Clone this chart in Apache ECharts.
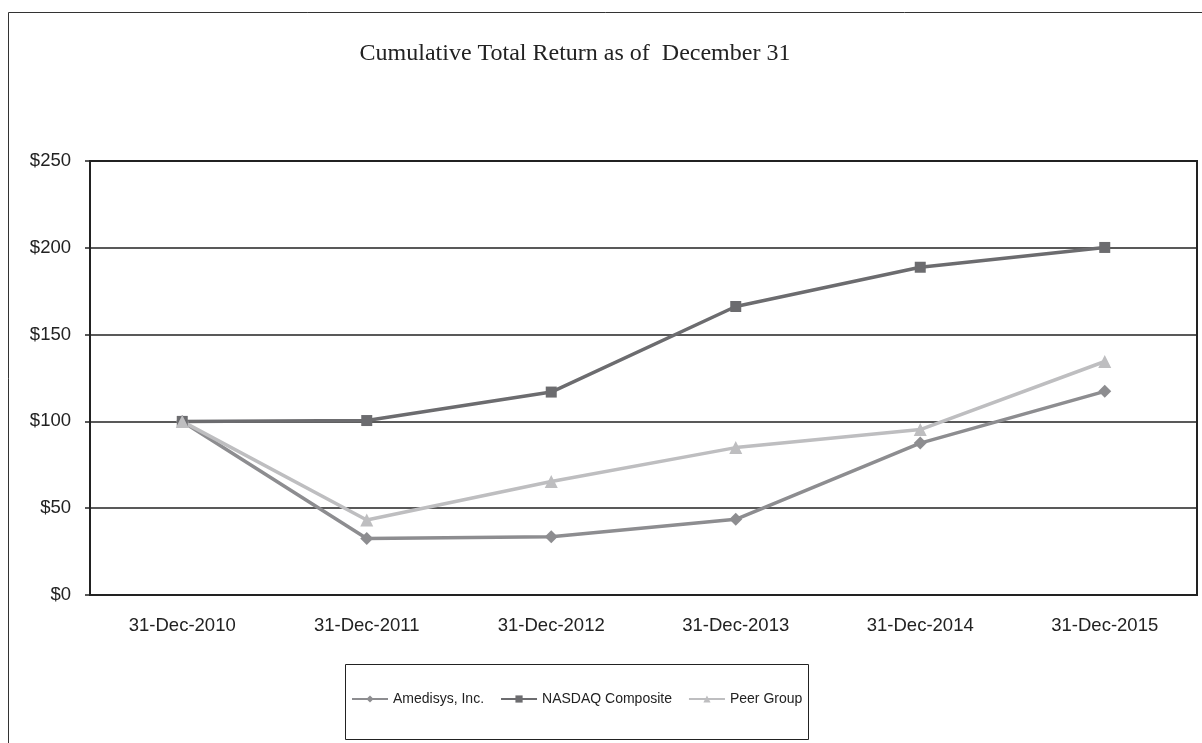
<!doctype html>
<html>
<head>
    <meta charset="utf-8">
    <title>Cumulative Total Return</title>
    <script type="text/javascript" src="https://cdn.jsdelivr.net/npm/echarts@6/dist/echarts.min.js"></script>
    <style>
        html, body { margin: 0; padding: 0; background: #fff; }
        #container { width: 1202px; height: 743px; }
    </style>
</head>
<body>
<div id="container"></div>
<script type="text/javascript">
    // data
    var years = ['31-Dec-2010', '31-Dec-2011', '31-Dec-2012', '31-Dec-2013', '31-Dec-2014', '31-Dec-2015'];
    var amedisys = [100, 32.5, 33.5, 43.6, 87.5, 117.3];
    var nasdaq = [100, 100.5, 116.9, 166.2, 188.8, 200.2];
    var peer = [100, 43.2, 65.4, 84.9, 95.3, 134.5];
    var yTicks = [0, 50, 100, 150, 200, 250];

    var dom = document.getElementById("container");
    var myChart = echarts.init(dom);

    function mkSeries(name, data, color, symbol, size) {
        return {
            name: name,
            type: 'line',
            data: data,
            symbol: symbol,
            symbolSize: size,
            showAllSymbol: true,
            lineStyle: { color: color, width: 3.5 },
            itemStyle: { color: color },
            z: 3
        };
    }

    var option = {
        animation: false,
        backgroundColor: '#fff',
        title: {
            text: 'Cumulative Total Return as of  December 31',
            left: 570,
            textAlign: 'center',
            top: 37,
            textStyle: { fontFamily: 'Liberation Serif', fontWeight: 'normal', fontSize: 24, color: '#222' }
        },
        graphic: [
            { type: 'rect', shape: { x: 8.5, y: 12.5, width: 1210, height: 760 },
              style: { fill: 'none', stroke: '#333', lineWidth: 1 }, silent: true },
            { type: 'rect', shape: { x: 345.5, y: 664.5, width: 463, height: 75 },
              style: { fill: 'none', stroke: '#222', lineWidth: 1 }, silent: true }
        ],
        legend: {
            left: 346,
            top: 687,
            itemGap: 16,
            itemWidth: 36,
            itemHeight: 9,
            lineStyle: { width: 2 },
            textStyle: { fontFamily: 'Liberation Sans', fontSize: 14, color: '#222' },
            data: ['Amedisys, Inc.', 'NASDAQ Composite', 'Peer Group']
        },
        grid: {
            left: 90, right: 5, top: 161, bottom: 148,
            show: true, borderColor: '#222', borderWidth: 2
        },
        xAxis: {
            type: 'category',
            data: years,
            boundaryGap: true,
            axisLine: { lineStyle: { color: '#222', width: 2 } },
            axisTick: { inside: true, length: 5, lineStyle: { color: '#222', width: 1.5 } },
            axisLabel: { margin: 21, fontFamily: 'Liberation Sans', fontSize: 18.5, color: '#222' }
        },
        yAxis: {
            type: 'value',
            min: yTicks[0],
            max: yTicks[yTicks.length - 1],
            interval: 50,
            axisLine: { show: true, lineStyle: { color: '#222', width: 2 } },
            axisTick: { show: true, length: 5, lineStyle: { color: '#222', width: 1.5 } },
            splitLine: { lineStyle: { color: '#222', width: 1.5 } },
            axisLabel: {
                margin: 19, fontFamily: 'Liberation Sans', fontSize: 18.5, color: '#222',
                formatter: function (v) { return '$' + v; }
            }
        },
        series: [
            mkSeries('Amedisys, Inc.', amedisys, '#8d8d90', 'diamond', 13),
            mkSeries('NASDAQ Composite', nasdaq, '#6c6c6f', 'rect', 11),
            mkSeries('Peer Group', peer, '#bebec0', 'triangle', 13)
        ]
    };

    myChart.setOption(option, true);
</script>
</body>
</html>
